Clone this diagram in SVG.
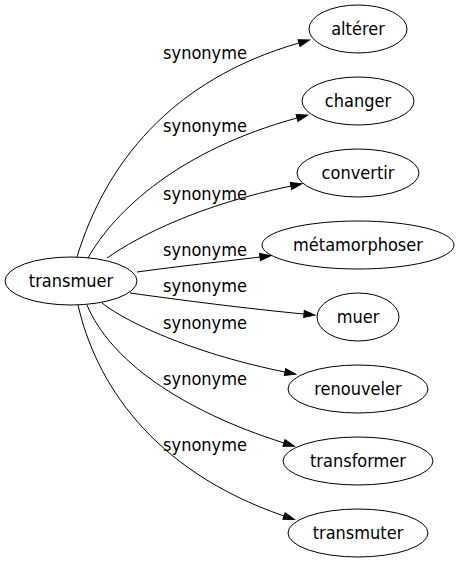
<svg xmlns="http://www.w3.org/2000/svg" width="459" height="563" viewBox="0 0 459 563">
<style>
.n ellipse{fill:none;stroke:#000;stroke-width:1}
text{font-family:"DejaVu Sans Condensed","DejaVu Sans",sans-serif;font-stretch:condensed;font-size:18px;fill:#000;text-anchor:middle}
.e path{fill:none;stroke:#000;stroke-width:1;marker-end:url(#a)}
</style>
<defs>
<marker id="a" markerUnits="userSpaceOnUse" markerWidth="12" markerHeight="10" refX="0" refY="3.5" orient="auto" overflow="visible">
<path d="M0,0 L11,3.5 L0,7 Z" fill="#000" stroke="#000"/>
</marker>
</defs>
<g id="edges" class="e">
<path d="M77,257 C105,165 170,80 299,43"/>
<path d="M88,258 C115,210 180,150 297,118"/>
<path d="M107,258 C140,235 200,205 291,186"/>
<path d="M137,272 C180,266 220,262 260,257"/>
<path d="M130,293 C180,300 250,309 304,314"/>
<path d="M102,303 C130,325 200,355 285,372"/>
<path d="M87,305 C110,360 180,410 284,443"/>
<path d="M78,305 C95,380 150,470 284,516"/>
<text x="205" y="59">synonyme</text>
<text x="205" y="132">synonyme</text>
<text x="205" y="200">synonyme</text>
<text x="205" y="256">synonyme</text>
<text x="205" y="292">synonyme</text>
<text x="205" y="329">synonyme</text>
<text x="205" y="385">synonyme</text>
<text x="205" y="451">synonyme</text>
</g>
<g id="transmuer" class="n"><ellipse cx="71" cy="281" rx="66" ry="24"/><text x="71" y="287">transmuer</text></g>
<g id="alterer" class="n"><ellipse cx="358" cy="29" rx="49" ry="24"/><text x="358" y="35">altérer</text></g>
<g id="changer" class="n"><ellipse cx="358" cy="101" rx="56" ry="24"/><text x="358" y="107">changer</text></g>
<g id="convertir" class="n"><ellipse cx="358" cy="173" rx="61" ry="24"/><text x="358" y="179">convertir</text></g>
<g id="metamorphoser" class="n"><ellipse cx="358" cy="245" rx="96" ry="24"/><text x="358" y="251">métamorphoser</text></g>
<g id="muer" class="n"><ellipse cx="358" cy="317" rx="41" ry="24"/><text x="358" y="323">muer</text></g>
<g id="renouveler" class="n"><ellipse cx="358" cy="389" rx="70" ry="24"/><text x="358" y="395">renouveler</text></g>
<g id="transformer" class="n"><ellipse cx="358" cy="461" rx="75" ry="24"/><text x="358" y="467">transformer</text></g>
<g id="transmuter" class="n"><ellipse cx="358" cy="533" rx="70" ry="24"/><text x="358" y="539">transmuter</text></g>
</svg>
